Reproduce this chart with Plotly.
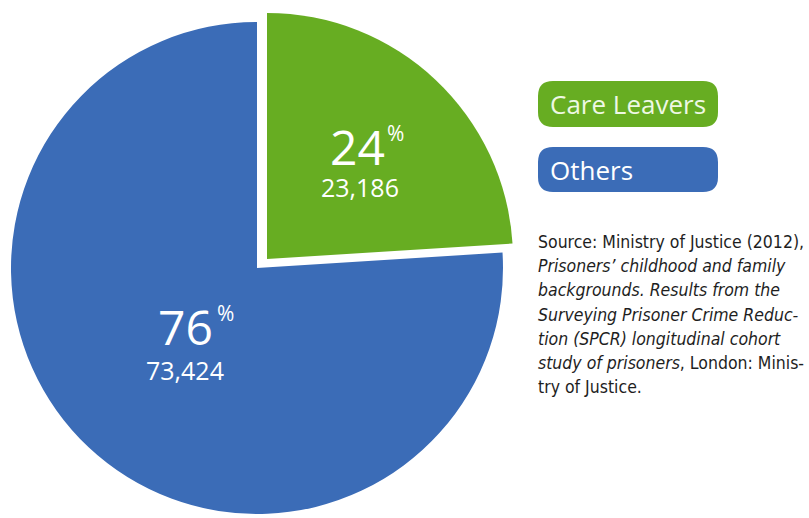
import plotly.graph_objects as go

categories = ["Care Leavers", "Others"]
counts = [23186, 73424]
colors = ["#67ad22", "#3b6cb7"]
source_lines = [
    "Source: Ministry of Justice (2012),",
    "<i>Prisoners’ childhood and family</i>",
    "<i>backgrounds. Results from the</i>",
    "<i>Surveying Prisoner Crime Reduc-</i>",
    "<i>tion (SPCR) longitudinal cohort</i>",
    "<i>study of prisoners</i>, London: Minis-",
    "try of Justice.",
]

W, H = 809, 518
total = sum(counts)
pcts = [round(c / total * 100) for c in counts]

def px_dom(cx, cy, r):
    return dict(x=[(cx - r) / W, (cx + r) / W], y=[1 - (cy + r) / H, 1 - (cy - r) / H])

fig = go.Figure()
R = 246
# base pie (Others visible, Care Leavers hidden)
fig.add_trace(go.Pie(
    labels=categories, values=counts, sort=False, direction="clockwise",
    marker=dict(colors=["rgba(0,0,0,0)", colors[1]], line=dict(width=0)),
    textinfo="none", hoverinfo="label+value+percent", showlegend=False,
    domain=px_dom(257, 268, R),
))
# exploded slice (Care Leavers)
fig.add_trace(go.Pie(
    labels=categories, values=counts, sort=False, direction="clockwise",
    marker=dict(colors=[colors[0], "rgba(0,0,0,0)"], line=dict(width=0)),
    textinfo="none", hoverinfo="label+value+percent", showlegend=False,
    domain=px_dom(267, 259, R),
))

FONT = "Open Sans"
anns = []
def ann(x, y, text, size, color="white", xanchor="center", yanchor="middle", family=FONT, align="center"):
    anns.append(dict(x=x / W, y=1 - y / H, xref="paper", yref="paper", text=text,
                     showarrow=False, xanchor=xanchor, yanchor=yanchor, align=align,
                     font=dict(family=family, size=size, color=color)))

label_pos = [((357, 146), (395, 133), (360, 187)), ((185, 326), (225, 313), (185, 370))]
for i in range(2):
    (bx, by), (px, py), (vx, vy) = label_pos[i]
    ann(bx, by, str(pcts[i]), 48)
    ann(px, py, "%", 21)
    ann(vx, vy, f"{counts[i]:,}", 25)

# legend pills
pill_y = [(81, 127), (147, 192)]
def pill(x0, y0, x1, y1, r, color):
    p = (f"M {x0+r},{y0} L {x1-r},{y0} Q {x1},{y0} {x1},{y0+r} L {x1},{y1-r} "
         f"Q {x1},{y1} {x1-r},{y1} L {x0+r},{y1} Q {x0},{y1} {x0},{y1-r} "
         f"L {x0},{y0+r} Q {x0},{y0} {x0+r},{y0} Z")
    return dict(type="path", xref="x", yref="y", path=p, fillcolor=color, line=dict(width=0))
shapes = [pill(538, pill_y[i][0], 718, pill_y[i][1], 15, colors[i]) for i in range(2)]

ann(548, 104, categories[0], 26, color="#eef8e4", xanchor="left")
ann(548, 170, categories[1], 26, color="white", xanchor="left")

for k, line in enumerate(source_lines):
    ann(536, 242 + k * 24.2, line, 17.5, color="#1e1e1e", xanchor="left",
        family="DejaVu Sans Condensed, Liberation Sans Narrow, sans-serif", align="left")

fig.update_layout(
    width=W, height=H, margin=dict(l=0, r=0, t=0, b=0),
    paper_bgcolor="white", plot_bgcolor="white",
    xaxis=dict(range=[0, W], visible=False, fixedrange=True),
    yaxis=dict(range=[H, 0], visible=False, fixedrange=True),
    annotations=anns, shapes=shapes, showlegend=False,
)
fig.write_html("out.html")
